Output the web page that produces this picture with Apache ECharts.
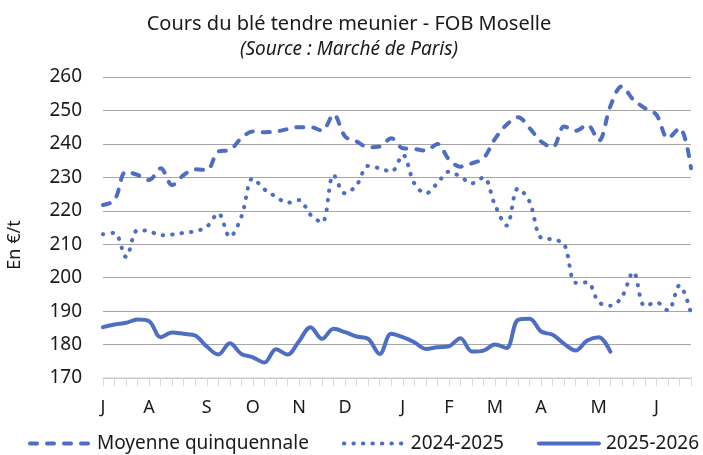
<!DOCTYPE html>
<html>
<head>
<meta charset="utf-8">
<script src="https://cdn.jsdelivr.net/npm/echarts@6/dist/echarts.min.js"></script>
<style>
  html, body { margin: 0; padding: 0; background: #fff; }
  #chart { width: 703px; height: 455px; }
</style>
</head>
<body>
<div id="chart"></div>
<script>
// semaines de juillet à juin, lettre du mois sur la 1re semaine
const weeks = [
  'J', '', '', '', 'A', '', '', '', '', 'S', '', '', '', 'O', '', '', '', 'N', '', '', '', 'D', '', '', '', '',
  'J', '', '', '', 'F', '', '', '', 'M', '', '', '', 'A', '', '', '', '', 'M', '', '', '', '', 'J', '', '', ''
]

const moyenne = [
  221.7, 223.2, 231.7, 230.7, 229.2, 232.7, 227.7, 230.7, 232.4, 232.2,
  237.7, 238.2, 241.7, 243.7, 243.5, 243.7, 244.4, 245.0, 245.0, 244.0,
  248.8, 242.2, 240.7, 239.0, 239.2, 241.7, 238.7, 238.5, 238.0, 240.0,
  235.4, 233.2, 234.2, 235.7, 241.5, 245.7, 248.0, 244.7, 240.7, 239.0,
  245.2, 243.9, 245.7, 241.0, 251.2, 257.2, 253.2, 250.7, 248.7, 241.7,
  244.7, 232.7
]

const campagne2425 = [
  213.0, 213.4, 206.2, 214.2, 213.9, 212.7, 212.9, 213.4, 213.9, 215.2,
  219.2, 212.2, 218.2, 229.7, 226.4, 224.2, 222.4, 223.2, 218.8, 216.5,
  230.7, 225.2, 227.7, 233.4, 232.7, 231.7, 236.7, 228.2, 225.2, 228.2,
  231.7, 230.2, 228.2, 230.0, 221.7, 215.6, 226.7, 222.7, 211.9, 211.4,
  210.0, 198.5, 198.6, 192.7, 191.6, 194.2, 201.7, 191.5, 192.6, 190.2,
  197.7, 189.4
]

const campagne2526 = [
  185.2, 186.0, 186.5, 187.5, 187.0, 182.2, 183.6, 183.2, 182.7, 179.4,
  177.0, 180.4, 177.2, 176.2, 174.6, 178.6, 177.0, 181.0, 185.2, 181.7,
  184.7, 183.7, 182.4, 181.7, 177.2, 183.2, 182.2, 180.7, 178.7, 179.2,
  179.5, 181.9, 177.9, 178.2, 180.0, 179.0, 187.4, 187.7, 183.9, 182.9,
  180.2, 178.2, 181.2, 182.2, 177.9, null, null, null, null, null,
  null, null
]

const yTicks = { min: 170, max: 260, step: 10 }

const font = 'Noto Sans'
const bleu = '#4e6ec4'

const chart = echarts.init(document.getElementById('chart'), null, { renderer: 'canvas' })

const serie = (name, data, type) => ({
  name: name,
  type: 'line',
  data: data,
  smooth: 0.35,
  symbol: 'none',
  connectNulls: false,
  lineStyle: { color: bleu, width: 4, type: type, cap: 'round' },
  itemStyle: { color: bleu }
})

const option = {
  animation: false,
  backgroundColor: '#fff',
  title: {
    text: 'Cours du blé tendre meunier - FOB Moselle',
    subtext: '(Source : Marché de Paris)',
    left: 344,
    textAlign: 'center',
    top: 9,
    itemGap: 6,
    textStyle: { fontFamily: font, fontSize: 20, fontWeight: 'normal', color: '#1a1a1a' },
    subtextStyle: { fontFamily: font, fontSize: 19, fontStyle: 'italic', color: '#1a1a1a' }
  },
  legend: {
    bottom: 2,
    left: 28,
    padding: 0,
    itemWidth: 60,
    itemHeight: 12,
    itemGap: 33,
    textStyle: { fontFamily: font, fontSize: 19, color: '#1a1a1a', padding: [0, 0, 0, 2] },
    itemStyle: { opacity: 0 },
    lineStyle: { width: 4 }
  },
  grid: { left: 103, right: 12, top: 77, bottom: 77 },
  xAxis: {
    type: 'category',
    data: weeks,
    boundaryGap: false,
    axisLine: { lineStyle: { color: '#d9d9d9', width: 1.5 } },
    axisTick: { show: true, interval: 0, length: 8, lineStyle: { color: '#d9d9d9' } },
    axisLabel: { interval: 0, margin: 21, fontFamily: font, fontSize: 18, color: '#1a1a1a' },
    splitLine: { show: false }
  },
  yAxis: {
    type: 'value',
    min: yTicks.min,
    max: yTicks.max,
    interval: yTicks.step,
    axisLine: { show: false },
    axisTick: { show: false },
    axisLabel: { margin: 21, fontFamily: font, fontSize: 19, color: '#1a1a1a' },
    splitLine: { lineStyle: { color: '#a6a6a6', width: 1 } }
  },
  graphic: [{
    type: 'text',
    x: 15,
    y: 245,
    rotation: Math.PI / 2,
    style: {
      text: 'En €/t',
      fontFamily: font,
      fontSize: 18,
      fill: '#1a1a1a',
      align: 'center',
      verticalAlign: 'middle'
    }
  }],
  series: [
    serie('Moyenne quinquennale', moyenne, [7, 10]),
    serie('2024-2025', campagne2425, [0.5, 9]),
    serie('2025-2026', campagne2526, 'solid')
  ]
}

chart.setOption(option)
</script>
</body>
</html>
